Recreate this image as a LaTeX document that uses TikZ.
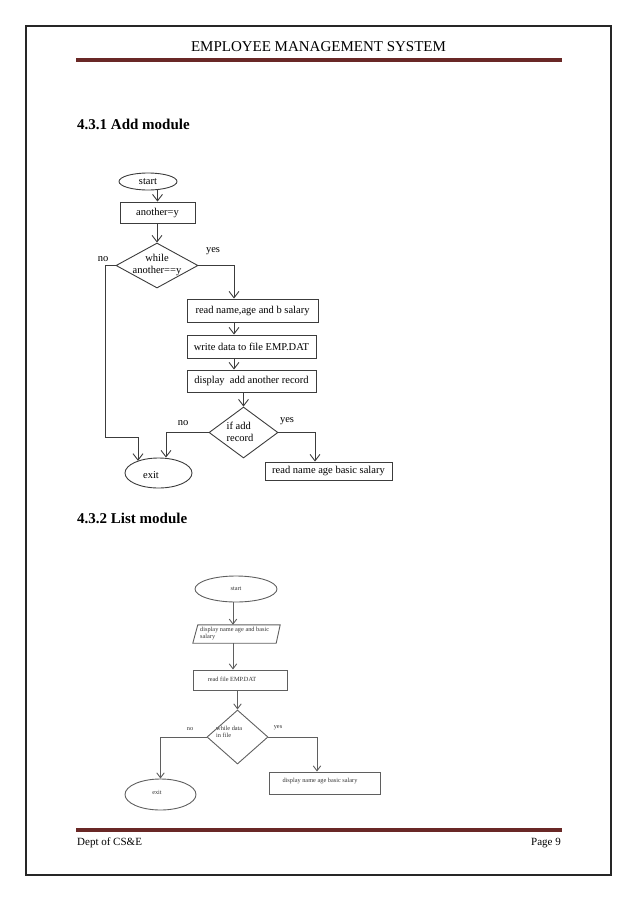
\documentclass[tikz,border=0pt]{standalone}
\usepackage{fontspec}
\setmainfont{Liberation Serif}
\usetikzlibrary{shapes.geometric,arrows.meta}
\definecolor{rulered}{RGB}{105,40,38}
\definecolor{lineA}{RGB}{60,60,60}
\definecolor{lineB}{RGB}{95,95,95}
\tikzset{
  fc/.style={draw=lineA, line width=0.9pt, inner sep=0pt, font=\fontsize{10.5}{12}\selectfont},
  boxA/.style={fc, rectangle},
  ellA/.style={fc, ellipse},
  diaA/.style={fc, diamond},
  fc2/.style={draw=lineB, line width=0.9pt, inner sep=0pt, font=\fontsize{6.3}{7.2}\selectfont, text=black!80},
  boxB/.style={fc2, rectangle},
  ellB/.style={fc2, ellipse},
  diaB/.style={fc2, diamond},
  arrA/.style={draw=lineA, line width=0.9pt, -{Straight Barb[length=6.5pt,width=10pt]}},
  arrB/.style={draw=lineB, line width=0.9pt, -{Straight Barb[length=5pt,width=7.5pt]}},
  lblA/.style={inner sep=0pt, font=\fontsize{10.5}{12}\selectfont},
  lblB/.style={inner sep=0pt, font=\fontsize{6.3}{7.2}\selectfont, text=black!80},
  heading/.style={inner sep=0pt, anchor=west, font=\fontsize{15}{17}\selectfont\bfseries},
  pagerule/.style={draw=rulered, line width=3.5pt},
}
\begin{document}
\begin{tikzpicture}[x=1pt,y=-1pt]
\useasboundingbox (0,0) rectangle (638,903);
% page frame
\draw[line width=1.4pt, black!85] (26,26) rectangle (611,875);
% header
\node[inner sep=0pt, font=\fontsize{15}{17}\selectfont] (hdr) at (318.5,47) {EMPLOYEE MANAGEMENT SYSTEM};
\draw[pagerule] (76,60) -- (562,60);
% footer
\draw[pagerule] (76,830) -- (562,830);
\node[inner sep=0pt, anchor=west, font=\fontsize{11}{13}\selectfont] (ftl) at (77,843) {Dept of CS\&E};
\node[inner sep=0pt, anchor=east, font=\fontsize{11}{13}\selectfont] (ftr) at (561,843) {Page 9};
% headings
\node[heading] (h1) at (77,124) {4.3.1 Add module};
\node[heading] (h2) at (77,518) {4.3.2 List module};

% ---------- Add module flowchart ----------
\node[ellA, minimum width=58pt, minimum height=17pt] (s1) at (148,181.5) {start};
\node[boxA, minimum width=75pt, minimum height=21pt] (a1) at (157.5,212.5) {another=y};
\node[diaA, minimum width=82pt, minimum height=45pt] (d1) at (157,265.5) {};
\node[lblA, align=center] (d1t) at (157,265) {while\\another==y};
\node[boxA, minimum width=131pt, minimum height=23pt] (b1) at (252.5,310.5) {read name,age and b salary};
\node[boxA, minimum width=129pt, minimum height=23pt] (b2) at (251.5,346.5) {write data to file EMP.DAT};
\node[boxA, minimum width=129pt, minimum height=22pt] (b3) at (251.5,381) {display\ \ add another record};
\node[diaA, minimum width=69pt, minimum height=51pt] (d2) at (243.5,432.5) {};
\node[lblA, align=left] (d2t) at (240,432) {if add\\record};
\node[ellA, minimum width=67pt, minimum height=30pt] (e1) at (158.5,473) {};
\node[lblA] (e1t) at (151,475) {exit};
\node[boxA, minimum width=127pt, minimum height=18pt] (b4) at (328.5,471) {read name age basic salary};

\coordinate (cx1) at (234,0);
\coordinate (cx2) at (166,0);
\coordinate (cx3) at (315,0);
\coordinate (n1) at (105,437);
\coordinate (n2) at (138,437);

\draw[arrA] (s1.south -| a1) -- (a1.north);
\draw[arrA] (a1.south -| d1) -- (d1.north);
\draw[arrA] (d1.east) -| (b1.north -| cx1);
\draw[arrA] (b1.south -| cx1) -- (b2.north -| cx1);
\draw[arrA] (b2.south -| cx1) -- (b3.north -| cx1);
\draw[arrA] (b3.south -| d2) -- (d2.north);
\draw[arrA] (d1.west) -| (n1) -- (n2) -- (n2 |- e1.150);
\draw[arrA] (d2.west) -| (e1.north -| cx2);
\draw[arrA] (d2.east) -| (b4.north -| cx3);

\node[lblA] (y1) at (213,251) {yes};
\node[lblA] (no1) at (103,259) {no};
\node[lblA] (no2) at (183,423) {no};
\node[lblA] (y2) at (287,421) {yes};

% ---------- List module flowchart ----------
\node[ellB, minimum width=82pt, minimum height=26pt] (s2) at (236,589) {start};
\node[inner sep=0pt, minimum width=87pt, minimum height=18pt] (p2) at (236.5,634) {};
\draw[draw=lineB, line width=0.9pt] ([xshift=5pt]p2.north west) -- (p2.north east) -- ([xshift=-4pt]p2.south east) -- (p2.south west) -- cycle;
\node[lblB, align=left, anchor=north west] (p2t) at (200,627) {display name age and basic\\salary};
\node[boxB, minimum width=94pt, minimum height=20pt] (r2) at (240,680) {};
\node[lblB] (r2t) at (232,679) {read file EMP.DAT};
\node[diaB, minimum width=61pt, minimum height=54pt] (d3) at (237.5,737) {};
\node[lblB, align=left, anchor=north west] (d3t) at (216,726) {while data\\in file};
\node[ellB, minimum width=71pt, minimum height=31pt] (e2) at (160.5,794.5) {};
\node[lblB] (e2t) at (157,792) {exit};
\node[boxB, minimum width=111pt, minimum height=22pt] (r3) at (324.5,783) {};
\node[lblB] (r3t) at (320,781) {display name age basic salary};

\coordinate (cx4) at (233,0);
\coordinate (cx5) at (317,0);

\draw[arrB] (s2.south -| cx4) -- (p2.north -| cx4);
\draw[arrB] (p2.south -| cx4) -- (r2.north -| cx4);
\draw[arrB] (r2.south -| d3) -- (d3.north);
\draw[arrB] (d3.west) -| (e2.north);
\draw[arrB] (d3.east) -| (r3.north -| cx5);

\node[lblB] (no3) at (190,729) {no};
\node[lblB] (y3) at (278,728) {yes};
\end{tikzpicture}
\end{document}
